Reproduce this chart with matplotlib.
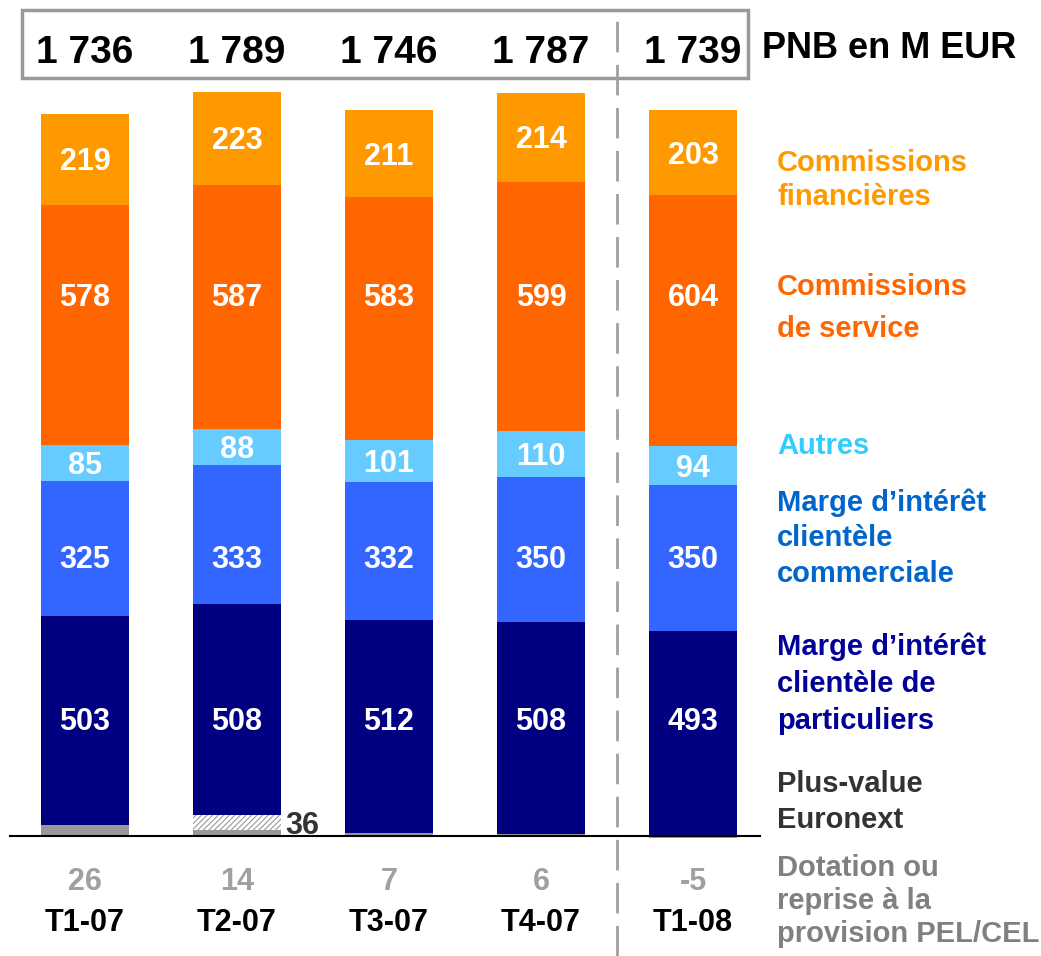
import matplotlib.pyplot as plt
from matplotlib.patches import Rectangle
import numpy as np

plt.rcParams['font.family'] = ['Liberation Sans', 'DejaVu Sans']
plt.rcParams['font.weight'] = 'bold'
plt.rcParams['hatch.color'] = '#888888'
plt.rcParams['hatch.linewidth'] = 0.8

quarters = ['T1-07', 'T2-07', 'T3-07', 'T4-07', 'T1-08']
pnb = ['1 736', '1 789', '1 746', '1 787', '1 739']
pel_cel = [26, 14, 7, 6, -5]
euronext = [0, 36, 0, 0, 0]
marge_part = [503, 508, 512, 508, 493]
marge_comm = [325, 333, 332, 350, 350]
autres = [85, 88, 101, 110, 94]
comm_service = [578, 587, 583, 599, 604]
comm_fin = [219, 223, 211, 214, 203]

W, H = 1041, 956
fig = plt.figure(figsize=(W / 100, H / 100), dpi=100)
ax = fig.add_axes([0, 0, 1, 1])
ax.axis('off')

# pixel mapping: bar centres 85 + 152*i, baseline at y=836 px from top
px_x = 152.0
s = 0.416
ax.set_xlim(-85 / px_x, (W - 85) / px_x)
ax.set_ylim(-(H - 836) / s, 836 / s)

def ypix(p):
    # pixel row (from top) -> data y
    return (836 - p) / s

dy = 3 / s  # va='center' sits text a bit high, nudge it down

x = np.arange(len(quarters))
bw = 88 / px_x

# PEL/CEL provision (can be negative)
ax.bar(x, pel_cel, bw, color='#999999', zorder=2)
bottom = np.clip(np.array(pel_cel, dtype=float), 0, None)
ax.bar(x, euronext, bw, bottom=bottom, color='white', hatch='//////',
       edgecolor='#999999', linewidth=0, zorder=2)
bottom = bottom + np.array(euronext)

# colour, label row (pixel from top, None = centred in segment)
series = [
    (marge_part, '#000080', 719),
    (marge_comm, '#3366FF', 557),
    (autres, '#66CCFF', None),
    (comm_service, '#FF6600', 295),
    (comm_fin, '#FF9900', None),
]
for vals, col, row in series:
    vals = np.array(vals, dtype=float)
    ax.bar(x, vals, bw, bottom=bottom, color=col, zorder=2)
    for xi, b, v in zip(x, bottom, vals):
        yl = b + v / 2 if row is None else ypix(row)
        ax.text(xi, yl - dy, f'{int(v)}', ha='center', va='center',
                color='white', fontsize=22, fontweight='bold', zorder=3)
    bottom = bottom + vals

# Euronext label
for xi, v, b in zip(x, euronext, pel_cel):
    if v:
        ax.text(xi + bw / 2 + 0.03, b + v / 2 - dy, f'{v}', ha='left',
                va='center', color='#333333', fontsize=22, fontweight='bold')

# baseline
ax.plot([-75 / px_x, 675 / px_x], [0, 0], color='black', lw=1.5, zorder=3)

# PEL values and quarter labels under the axis
for xi, v, q in zip(x, pel_cel, quarters):
    ax.text(xi, ypix(879) - dy, f'{v}', ha='center', va='center',
            color='#A0A0A0', fontsize=22, fontweight='bold')
    ax.text(xi, ypix(920) - dy, q, ha='center', va='center',
            color='black', fontsize=22, fontweight='bold')

# totals in the grey box
for xi, t in zip(x, pnb):
    ax.text(xi, ypix(50) - dy, t, ha='center', va='center',
            color='black', fontsize=28, fontweight='bold')

fig.add_artist(Rectangle((22 / W, 1 - 78 / H), (748 - 22) / W, (78 - 10) / H,
                         transform=fig.transFigure, fill=False,
                         edgecolor='#999999', lw=2.5))
fig.add_artist(plt.Line2D([617 / W, 617 / W], [0, 1 - 14 / H],
                          transform=fig.transFigure, color='#A0A0A0', lw=2,
                          dashes=(11, 4.5)))

fig.text(762 / W, 1 - 48 / H, 'PNB en M EUR', ha='left', va='center',
         fontsize=26, fontweight='bold', color='black')

legend = [
    ('Commissions\nfinancières', '#FF9900', 180, 1.30),
    ('Commissions\nde service', '#FF6600', 308, 1.64),
    ('Autres', '#33CCFF', 446, 1.2),
    ('Marge d\u2019intérêt\nclientèle\ncommerciale', '#0066CC', 538, 1.33),
    ('Marge d\u2019intérêt\nclientèle de\nparticuliers', '#000099', 684, 1.41),
    ('Plus-value\nEuronext', '#333333', 802, 1.36),
    ('Dotation ou\nreprise à la\nprovision PEL/CEL', '#808080', 901, 1.23),
]
for txt, col, yc, ls in legend:
    fig.text(777 / W, 1 - yc / H, txt, ha='left', va='center', fontsize=21,
             fontweight='bold', color=col, linespacing=ls)

fig.savefig('out.png', dpi=100)
